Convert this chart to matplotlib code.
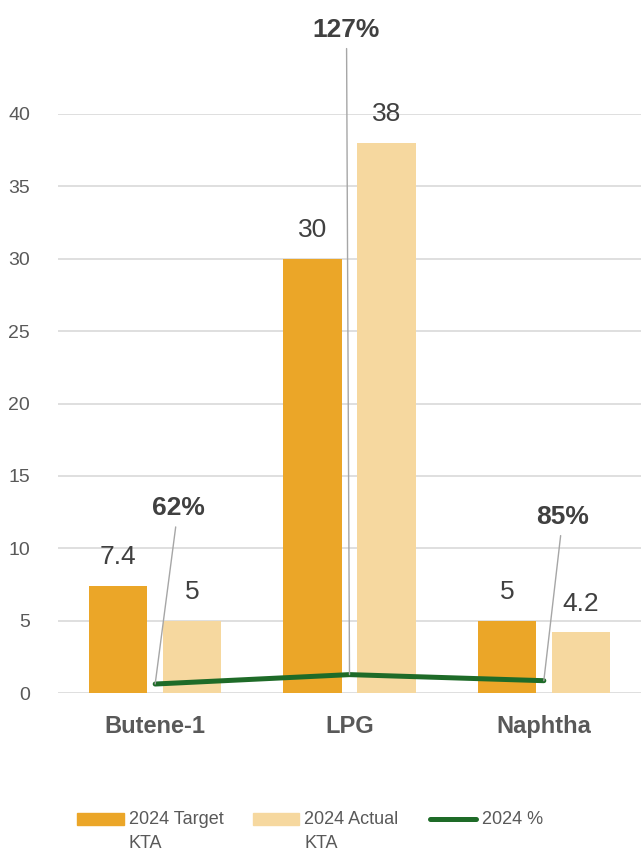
import matplotlib
matplotlib.use("Agg")
import matplotlib.pyplot as plt
from matplotlib.patches import Rectangle
from matplotlib.lines import Line2D
import numpy as np

categories = ["Butene-1", "LPG", "Naphtha"]
target_kta = [7.4, 30, 5]
actual_kta = [5, 38, 4.2]
pct_2024 = [0.62, 1.27, 0.85]
pct_labels = ["62%", "127%", "85%"]
y_ticks = [0, 5, 10, 15, 20, 25, 30, 35, 40]
legend_labels = ["2024 Target\nKTA", "2024 Actual\nKTA", "2024 %"]

c_target = "#EBA628"
c_actual = "#F6D89F"
c_line = "#1E6B28"
c_grid = "#D9D9D9"
c_text = "#404040"
c_tick = "#595959"

plt.rcParams["font.family"] = ["Liberation Sans", "DejaVu Sans"]

W, H = 641, 852
fig = plt.figure(figsize=(W / 100, H / 100), dpi=100)
ax = fig.add_axes([58 / W, 1 - 693 / H, 1 - 58 / W, (693 - 114) / H])

x = np.arange(len(categories))
w = 0.3
off = 0.19
b1 = ax.bar(x - off, target_kta, w, color=c_target, zorder=2)
b2 = ax.bar(x + off, actual_kta, w, color=c_actual, zorder=2)

for bars, vals in ((b1, target_kta), (b2, actual_kta)):
    for rect, v in zip(bars, vals):
        ax.annotate(f"{v:g}", (rect.get_x() + rect.get_width() / 2, v),
                    xytext=(0, 12), textcoords="offset points",
                    ha="center", va="bottom", fontsize=19, color=c_text)

ax.plot(x, pct_2024, color=c_line, lw=3.6, solid_capstyle="round", zorder=3)

# percentage callouts with leader lines (offsets in pixels from each point)
label_offsets = [(23, 176), (-3, 645), (19, 164)]
for xi, yi, txt, (dx, dy) in zip(x, pct_2024, pct_labels, label_offsets):
    ax.annotate(txt, (xi, yi), xytext=(dx, dy), textcoords="offset pixels",
                ha="center", va="center", fontsize=19, fontweight="bold",
                color=c_text, annotation_clip=False,
                arrowprops=dict(arrowstyle="-", color="#A6A6A6", lw=1.0,
                                shrinkA=3, shrinkB=0))

ax.set_xlim(-0.5, 2.5)
ax.set_ylim(0, 40)
ax.set_yticks(y_ticks)
ax.set_xticks(x)
ax.set_xticklabels(categories, fontsize=17, fontweight="bold", color=c_tick)
ax.tick_params(axis="y", labelsize=14, colors=c_tick, length=0, pad=20)
ax.tick_params(axis="x", length=0, pad=16)
ax.yaxis.grid(True, color=c_grid, lw=1.2, zorder=0)
ax.set_axisbelow(True)
for s in ax.spines.values():
    s.set_visible(False)

# legend row drawn in figure pixel coordinates
def fx(px):
    return px / W

def fy(py):
    return 1 - py / H

fig.patches.append(Rectangle((fx(77), fy(825)), 47 / W, 12 / H,
                             transform=fig.transFigure, color=c_target))
fig.patches.append(Rectangle((fx(253), fy(825)), 46 / W, 12 / H,
                             transform=fig.transFigure, color=c_actual))
fig.lines.append(Line2D([fx(430), fx(476)], [fy(819), fy(819)],
                        transform=fig.transFigure, color=c_line, lw=3.6,
                        solid_capstyle="round"))
for px, txt in zip((129, 304, 482), legend_labels):
    fig.text(fx(px), fy(811), txt, ha="left", va="top", fontsize=13,
             color=c_tick, linespacing=1.55)

fig.savefig("out.png", dpi=100)
